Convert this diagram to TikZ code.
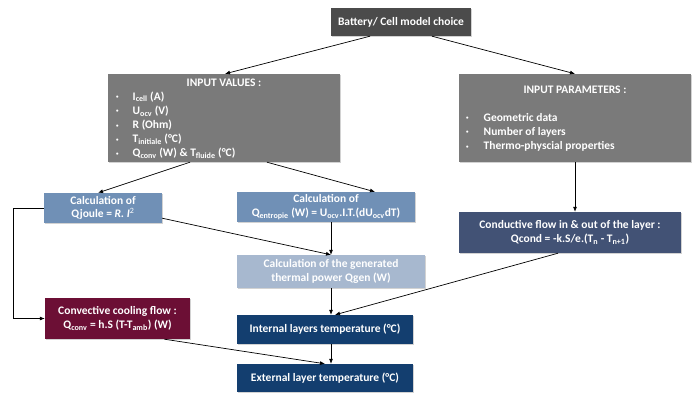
\documentclass[tikz,border=0pt]{standalone}
\usepackage{fontspec}
\setmainfont{Carlito}
\usetikzlibrary{arrows.meta,shadows}
\definecolor{cbat}{HTML}{4B4B4B}
\definecolor{cgrey}{HTML}{7A7A7A}
\definecolor{csteel}{HTML}{7090B6}
\definecolor{clight}{HTML}{A7B8CF}
\definecolor{cslate}{HTML}{425275}
\definecolor{cmaroon}{HTML}{6C0F35}
\definecolor{cnavy}{HTML}{133E6F}
\tikzset{
  box/.style={draw=none, minimum width=#1, inner sep=0pt, text=white,
    font=\bfseries\fontsize{11.5}{13.5}\selectfont, align=center,
    drop shadow={shadow xshift=1.2pt,shadow yshift=-1.2pt,opacity=0.35}},
  txt/.style={inner sep=0pt, text=white, font=\bfseries\fontsize{11.5}{14.2}\selectfont},
  arr/.style={draw=black, line width=0.7pt, -{Latex[length=5pt,width=4pt]}},
}
\newcommand{\sbs}[1]{\textsubscript{#1}}
\newcommand{\bul}{\raisebox{1.5pt}{\fontsize{5}{5}\selectfont•}}
\begin{document}
\begin{tikzpicture}[x=1pt,y=-1pt]
\useasboundingbox[fill=white] (0,0) rectangle (696,392);
% boxes
\node[box=140pt, minimum height=28pt, fill=cbat] (battery) at (401,22) {Battery/ Cell model choice};
\node[box=232pt, minimum height=88pt, fill=cgrey] (inputV) at (224,118) {};
\node[box=232pt, minimum height=88pt, fill=cgrey] (inputP) at (575,118) {};
\node[box=118pt, minimum height=30pt, fill=csteel] (joule) at (103,208) {Calculation of\\Qjoule = \textit{R. I}\textsuperscript{\mdseries 2}};
\node[box=178pt, minimum height=30pt, fill=csteel] (entropie) at (326,207) {Calculation of\\Q\sbs{entropie} (W) = U\sbs{ocv}.I.T.(dU\sbs{ocv}dT)};
\node[box=188pt, minimum height=33pt, fill=clight] (qgen) at (331,271.5) {Calculation of the generated\\thermal power Qgen (W)};
\node[box=222pt, minimum height=41pt, fill=cslate] (cond) at (570,232.5) {Conductive flow in \& out of the layer :\\Qcond = -k.S/e.(T\sbs{n} - T\sbs{n+1})};
\node[box=145pt, minimum height=41pt, fill=cmaroon] (conv) at (117.5,318.5) {Convective cooling flow :\\Q\sbs{conv} = h.S (T-T\sbs{amb}) (W)};
\node[box=176pt, minimum height=29pt, fill=cnavy] (internal) at (325,329.5) {Internal layers temperature (°C)};
\node[box=176pt, minimum height=28pt, fill=cnavy] (external) at (325,378) {External layer temperature (°C)};
% texts in grey boxes
\node[txt] (tV) at (224,83) {INPUT VALUES :};
\node[txt, anchor=north west, align=left] (lV) at (116,90) {%
\begin{tabular}{@{}l@{\hspace{14pt}}l@{}}
\bul& I\sbs{cell} (A)\\
\bul& U\sbs{ocv} (V)\\
\bul& R (Ohm)\\
\bul& T\sbs{initiale} (°C)\\
\bul& Q\sbs{conv} (W) \& T\sbs{fluide} (°C)
\end{tabular}};
\node[txt] (tP) at (575,90) {INPUT PARAMETERS :};
\node[txt, anchor=north west, align=left] (lP) at (466,111) {%
\begin{tabular}{@{}l@{\hspace{15pt}}l@{}}
\bul& Geometric data\\
\bul& Number of layers\\
\bul& Thermo-physcial properties
\end{tabular}};
% connectors
\draw[arr] ([xshift=-31pt]battery.south) -- ([xshift=1pt]inputV.north);
\draw[arr] ([xshift=31pt]battery.south) -- (inputP.north);
\draw[arr] ([xshift=-34pt]inputV.south) -- ([xshift=-5pt]joule.north);
\draw[arr] ([xshift=43pt]inputV.south) -- ([xshift=49pt]entropie.north);
\draw[arr] (inputP.south) -- (inputP.south |- cond.north);
\draw[arr] ([yshift=5pt]joule.south east) -- (qgen.north);
\draw[arr] (qgen.north |- entropie.south) -- (qgen.north);
\draw[arr] ([xshift=-12pt]cond.south) -- ([xshift=10pt]internal.north);
\draw[arr] (qgen.south) -- (qgen.south |- internal.north);
\draw[arr] (joule.west) -- ++(-30,0) |- (conv.west);
\draw[arr] ([xshift=47pt]conv.south) -- (external.north);
\draw[arr] ([xshift=6pt]internal.south) -- ([xshift=6pt]external.north);
\end{tikzpicture}
\end{document}
